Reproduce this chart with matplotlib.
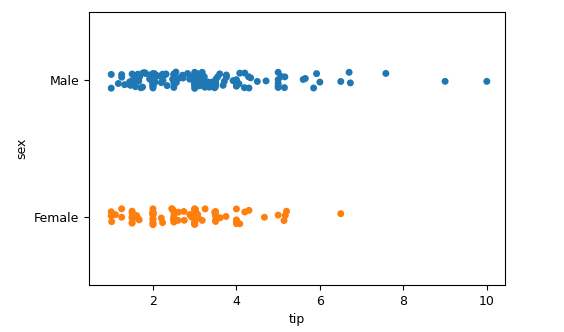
import numpy as np
import pandas as pd
import matplotlib
matplotlib.use("Agg")
import matplotlib.pyplot as plt
import seaborn as sns

# tip values, grouped by sex
male_tips = [
    1.66, 3.5, 3.31, 4.71, 2.0, 3.12, 1.96, 3.23, 1.71, 1.57, 3.0, 3.92, 3.71,
    3.35, 4.08, 7.58, 3.18, 2.34, 2.0, 2.0, 4.3, 1.45, 2.5, 3.27, 3.6, 2.0,
    2.31, 5.0, 2.24, 2.54, 3.06, 1.32, 5.6, 3.0, 5.0, 6.0, 2.05, 3.0, 2.5,
    1.56, 4.34, 3.51, 3.0, 1.76, 6.73, 3.21, 2.0, 1.98, 3.76, 2.64, 3.15,
    2.47, 1.0, 2.01, 2.09, 1.97, 3.0, 3.14, 5.0, 2.2, 1.25, 3.08, 4.0, 3.0,
    2.71, 3.0, 3.4, 1.83, 5.0, 2.03, 2.0, 4.0, 5.85, 3.0, 1.5, 1.8, 2.92,
    2.31, 1.68, 2.5, 2.0, 2.52, 4.2, 1.48, 2.0, 2.18, 1.5, 2.83, 2.0, 3.25,
    1.25, 2.0, 1.64, 4.06, 4.29, 3.76, 4.0, 3.0, 4.0, 2.55, 3.5, 5.07, 1.5,
    3.48, 2.24, 4.5, 1.61, 10.0, 3.16, 5.15, 3.18, 3.11, 4.0, 3.55, 3.68,
    5.65, 3.5, 6.5, 3.0, 5.0, 3.5, 2.0, 4.19, 2.56, 2.02, 1.44, 6.7, 2.01,
    2.5, 3.23, 3.41, 2.03, 2.23, 5.16, 9.0, 3.0, 1.5, 3.09, 2.2, 1.92, 1.58,
    2.72, 2.88, 3.39, 1.47, 1.17, 5.92, 1.75, 2.0, 3.0, 1.0, 4.0, 2.5, 3.0,
    1.5, 2.0,
]
female_tips = [
    1.01, 3.61, 5.0, 3.02, 1.67, 3.5, 2.75, 2.23, 3.0, 3.0, 2.45, 3.07, 2.6,
    5.2, 1.5, 2.47, 1.0, 3.0, 3.5, 2.0, 2.0, 4.0, 3.5, 4.0, 1.5, 3.0, 2.5,
    3.48, 4.08, 1.64, 4.67, 1.5, 2.5, 2.0, 2.0, 3.0, 2.74, 2.0, 5.14, 3.75,
    2.61, 2.0, 3.0, 1.61, 2.0, 4.0, 3.5, 2.5, 2.0, 3.0, 2.5, 1.0, 1.25, 1.5,
    2.0, 3.0, 2.5, 3.0, 1.25, 3.0, 6.5, 1.1, 3.09, 2.5, 2.0, 1.5, 3.0, 4.0,
    3.5, 3.0, 2.0, 4.2, 3.0, 3.18, 1.5, 2.0, 3.0, 3.25, 2.5, 5.17, 2.88,
    2.5, 3.0, 2.2, 2.0, 4.3, 2.92,
]
sex_order = ["Male", "Female"]

tips = pd.DataFrame({
    "tip": male_tips + female_tips,
    "sex": ["Male"] * len(male_tips) + ["Female"] * len(female_tips),
})

plt.rcParams["font.size"] = 9
fig = plt.figure(figsize=(5.64, 3.32), dpi=100)
ax = fig.add_axes([0.158, 0.142, 0.737, 0.822])

np.random.seed(0)
sns.stripplot(x="tip", y="sex", data=tips, order=sex_order,
              hue="sex", hue_order=sex_order,
              palette=["#1f77b4", "#ff7f0e"], jitter=0.06, size=5,
              legend=False, ax=ax)

ax.set_xlim(0.47, 10.43)
ax.set_xticks([2, 4, 6, 8, 10])
ax.set_xlabel("tip")
ax.set_ylabel("sex")

fig.savefig("out.png", dpi=100)
